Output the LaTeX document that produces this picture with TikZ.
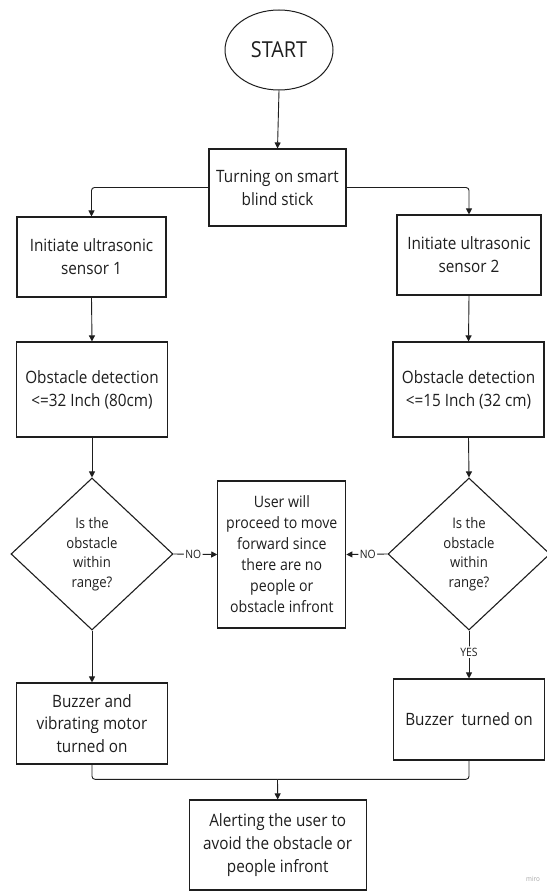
\documentclass[tikz,border=0pt]{standalone}
\usepackage{fontspec}
\setmainfont{Open Sans}[FakeStretch=0.9]
\usetikzlibrary{shapes.geometric,arrows.meta}
\definecolor{ink}{HTML}{1E1E1E}
\tikzset{
  box/.style={draw=ink, line width=1.1pt, rectangle, align=center, text=ink, inner sep=0pt,
    font=\fontsize{17}{22.8}\selectfont},
  midbox/.style={box, font=\fontsize{15.7}{21}\selectfont},
  dia/.style={draw=ink, line width=1.1pt, diamond, inner sep=0pt},
  diatext/.style={align=center, text=ink, inner sep=0pt, font=\fontsize{14.6}{19.5}\selectfont},
  conn/.style={draw=ink, line width=0.9pt, rounded corners=3pt},
  arr/.style={conn, -{Triangle[length=6pt,width=6pt]}},
  lbl/.style={fill=white, text=ink, inner sep=1.5pt, font=\fontsize{11.5}{13}\selectfont}
}
\begin{document}
\begin{tikzpicture}[x=1pt,y=-1pt]
\fill[white] (0,0) rectangle (546,891);
\useasboundingbox (0,0) rectangle (546,891);

\node[draw=ink, line width=1pt, ellipse, minimum width=108pt, minimum height=80pt, inner sep=0pt,
      text=ink, font=\fontsize{22}{26}\selectfont] (start) at (279,50) {START};

\node[box, minimum width=137pt, minimum height=77pt] (turn) at (277.5,187.5) {Turning on smart\\blind stick};

\node[box, minimum width=149pt, minimum height=80pt] (s1) at (91.5,257) {Initiate ultrasonic\\sensor 1};
\node[box, minimum width=144pt, minimum height=80pt] (s2) at (469,255) {Initiate ultrasonic\\sensor 2};

\node[box, minimum width=151pt, minimum height=95pt] (o1) at (92,389.5) {Obstacle detection\\<=32 Inch (80cm)};
\node[box, minimum width=151pt, minimum height=95pt] (o2) at (468.5,389.5) {Obstacle detection\\<=15 Inch (32 cm)};

\node[dia, minimum width=162pt, minimum height=152pt] (d1) at (92,554) {};
\node[diatext] (d1t) at (d1.center) {Is the\\obstacle\\within\\range?};
\node[dia, minimum width=162pt, minimum height=152pt] (d2) at (469,554) {};
\node[diatext] (d2t) at (d2.center) {Is the\\obstacle\\within\\range?};

\node[midbox, minimum width=128pt, minimum height=147pt] (mid) at (281.8,554.5)
  {User will\\proceed to move\\forward since\\there are no\\people or\\obstacle infront};

\node[box, minimum width=151pt, minimum height=81pt] (b1) at (92,723.5) {Buzzer and\\vibrating motor\\turned on};
\node[box, minimum width=151pt, minimum height=81pt] (b2) at (469,719.5) {Buzzer~ turned on};

\node[box, minimum width=177pt, minimum height=90pt] (alert) at (277.7,845)
  {Alerting the user to\\avoid the obstacle or\\people infront};

\coordinate (merge) at (277.5,779.3);

\node[text=gray!70, font=\fontsize{7}{8}\selectfont, inner sep=0pt] (miro) at (533,878.7) {miro};

% connectors
\draw[arr] (start.south) -- (turn.north);
\draw[arr] (turn.west) -| (s1.north);
\draw[arr] (turn.east) -| (s2.north);
\draw[arr] (s1.south) -- (o1.north);
\draw[arr] (s2.south) -- (o2.north);
\draw[arr] (o1.south) -- (d1.north);
\draw[arr] (o2.south) -- (d2.north);
\draw[arr] (d1.east) -- node[lbl, pos=0.45] (no1) {NO} (mid.west);
\draw[arr] (d2.west) -- node[lbl, pos=0.48] (no2) {NO} (mid.east);
\draw[arr] (d1.south) -- (b1.north);
\draw[arr] (d2.south) -- node[lbl, pos=0.45] (yes) {YES} (b2.north);
\draw[conn] (b1.south) |- (merge);
\draw[conn] (b2.south) |- (merge);
\draw[arr] (merge) -- (alert.north);
\end{tikzpicture}
\end{document}
